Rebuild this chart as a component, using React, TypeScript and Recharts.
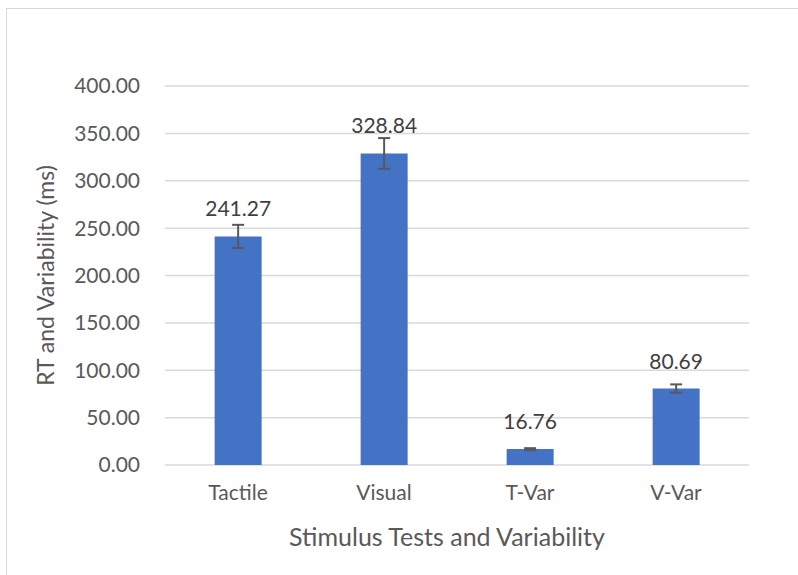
import React from "react";
import {
  Bar,
  BarChart,
  CartesianGrid,
  ErrorBar,
  LabelList,
  XAxis,
  YAxis,
} from "recharts";

const categories = ["Tactile", "Visual", "T-Var", "V-Var"];
const means = [241.27, 328.84, 16.76, 80.69];
const errors = [12.2, 16.2, 1, 4.4];
const yTicks = [0, 50, 100, 150, 200, 250, 300, 350, 400];

const data = categories.map((name, i) => ({
  name,
  value: means[i],
  err: errors[i],
}));

const font = "Lato, 'Open Sans', sans-serif";
const textGrey = "#595959";

export default function App() {
  return (
    <div
      style={{
        position: "fixed",
        left: 0,
        top: 0,
        width: 798,
        height: 575,
        overflow: "hidden",
        background: "#fff",
        fontFamily: font,
      }}
    >
      <div
        style={{
          position: "absolute",
          left: 6,
          top: 8,
          width: 900,
          height: 700,
          border: "1px solid #d9d9d9",
        }}
      />
      <div style={{ position: "absolute", left: 0, top: 0 }}>
        <BarChart
          width={798}
          height={575}
          data={data}
          margin={{ top: 86, right: 49, bottom: 20, left: 30 }}
          barCategoryGap="34%"
        >
          <CartesianGrid
            vertical={false}
            stroke="#d9d9d9"
            strokeWidth={1.5}
          />
          <XAxis
            dataKey="name"
            axisLine={false}
            tickLine={false}
            tickSize={0}
            tickMargin={20}
            height={90}
            tick={{ fontSize: 21, fill: textGrey, fontFamily: font }}
            label={{
              value: "Stimulus Tests and Variability",
              position: "insideBottom",
              offset: 9,
              dx: -10,
              style: { fontSize: 25, fill: textGrey, fontFamily: font },
            }}
          />
          <YAxis
            domain={[0, 400]}
            ticks={yTicks}
            width={135}
            axisLine={false}
            tickLine={false}
            tickSize={0}
            tickMargin={25}
            tickFormatter={(v: number) => v.toFixed(2)}
            tick={{ fontSize: 21, fill: textGrey, fontFamily: font }}
            label={{
              value: "RT and Variability (ms)",
              angle: -90,
              position: "insideLeft",
              offset: 16,
              style: {
                textAnchor: "middle",
                fontSize: 23,
                fill: textGrey,
                fontFamily: font,
              },
            }}
          />
          <Bar dataKey="value" fill="#4472C4" isAnimationActive={false}>
            <ErrorBar
              dataKey="err"
              width={6}
              stroke="#595959"
              strokeWidth={2}
              direction="y"
            />
            <LabelList
              dataKey="value"
              position="top"
              offset={20}
              formatter={(v: number) => v.toFixed(2)}
              style={{ fontSize: 21, fill: "#404040", fontFamily: font }}
            />
          </Bar>
        </BarChart>
      </div>
    </div>
  );
}
